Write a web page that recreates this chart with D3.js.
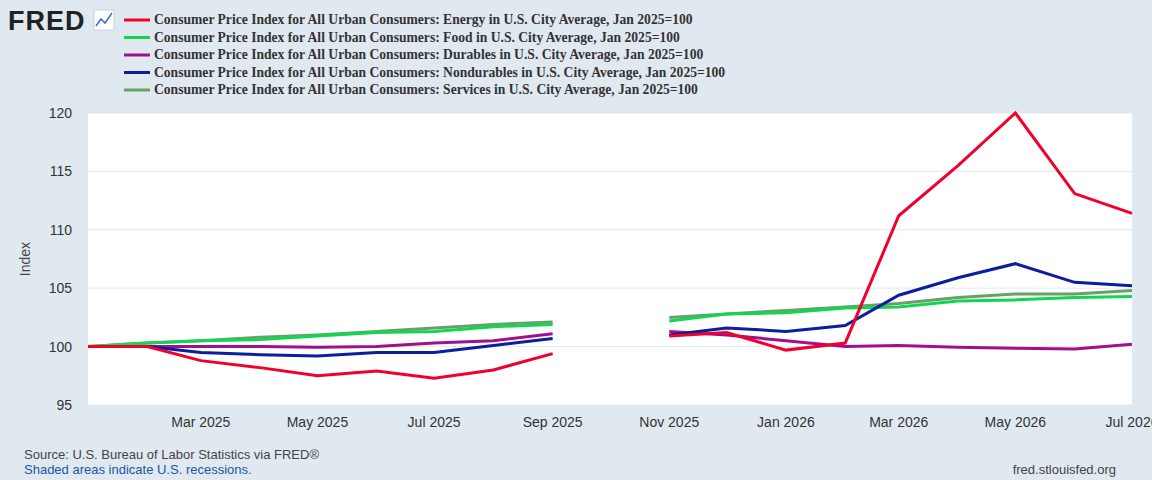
<!DOCTYPE html>
<html lang="en">
<head>
<meta charset="utf-8">
<title>FRED CPI components</title>
<script src="https://d3js.org/d3.v7.min.js"></script>
<style>
  body { margin: 0; background: #e1e9f0; }
  svg text { font-family: "Liberation Sans", Arial, sans-serif; }
  .legend text { font-family: "Liberation Serif", "Times New Roman", serif; font-weight: bold; font-size: 13.6px; fill: #333; }
</style>
</head>
<body>
<div id="chart"></div>
<script>
// monthly dates, Oct 2025 missing
var months1 = ["2025-01","2025-02","2025-03","2025-04","2025-05","2025-06","2025-07","2025-08","2025-09"];
var months2 = ["2025-11","2025-12","2026-01","2026-02","2026-03","2026-04","2026-05","2026-06","2026-07"];
var energy = [100,100,98.8,98.2,97.5,97.9,97.3,98.0,99.4, 100.9,101.2,99.7,100.3,111.2,115.5,120,113.1,111.4];
var food = [100,100.3,100.5,100.6,100.9,101.2,101.3,101.7,101.9, 102.2,102.8,102.9,103.3,103.4,103.9,104.0,104.2,104.3];
var durables = [100,100,100,100,99.95,100.0,100.3,100.5,101.1, 101.3,101.0,100.5,100.0,100.1,99.95,99.85,99.8,100.2];
var nondurables = [100,100,99.5,99.3,99.2,99.5,99.5,100.1,100.7, 101.0,101.6,101.3,101.8,104.4,105.9,107.1,105.5,105.2];
var services = [100,100.3,100.5,100.8,101.0,101.3,101.6,101.9,102.1, 102.5,102.8,103.1,103.4,103.7,104.2,104.5,104.5,104.8];
var seriesNames = ["Energy","Food","Durables","Nondurables","Services"];
var seriesColors = ["#f0002b","#10d650","#a0108c","#0a1e9e","#6a9e6a"];
var yTicks = [95,100,105,110,115,120];
var xTicks = ["2025-03","2025-05","2025-07","2025-09","2025-11","2026-01","2026-03","2026-05","2026-07"];

var W = 1152, H = 480;
var pLeft = 88, pRight = 1132, pTop = 113, pBottom = 405;
var parse = d3.timeParse("%Y-%m");
var dates = months1.concat(months2).map(parse);

var svg = d3.select("#chart").append("svg").attr("width", W).attr("height", H);
var x = d3.scaleTime().domain([parse("2025-01"), parse("2026-07")]).range([pLeft, pRight]);
var y = d3.scaleLinear().domain([95, 120]).range([pBottom, pTop]);

svg.append("rect").attr("x", pLeft).attr("y", pTop).attr("width", pRight - pLeft).attr("height", pBottom - pTop).attr("fill", "#fff");

// gridlines
svg.append("g").selectAll("line").data(yTicks).enter().append("line")
  .attr("x1", pLeft).attr("x2", pRight)
  .attr("y1", d => y(d)).attr("y2", d => y(d))
  .attr("stroke", "#e1e9f0").attr("stroke-width", 1);

svg.append("g").selectAll("text").data(yTicks).enter().append("text")
  .attr("x", pLeft - 16).attr("y", d => y(d) + 5)
  .attr("text-anchor", "end").attr("font-size", 14).attr("fill", "#333")
  .text(d => d);

svg.append("g").selectAll("text").data(xTicks).enter().append("text")
  .attr("x", d => x(parse(d))).attr("y", pBottom + 22)
  .attr("text-anchor", "middle").attr("font-size", 14).attr("fill", "#333")
  .text(d => d3.timeFormat("%b %Y")(parse(d)));

svg.append("text").attr("transform", "translate(30," + ((pTop + pBottom) / 2) + ") rotate(-90)")
  .attr("text-anchor", "middle").attr("font-size", 14).attr("fill", "#444").text("Index");

// lines
var allSeries = [energy, food, durables, nondurables, services];
var line = d3.line().x(d => x(d.date)).y(d => y(d.v));
var order = [4, 1, 2, 3, 0];
order.forEach(function(k) {
  var pts = allSeries[k].map((v, i) => ({date: dates[i], v: v}));
  [pts.slice(0, 9), pts.slice(9)].forEach(function(seg) {
    svg.append("path").datum(seg).attr("d", line)
      .attr("fill", "none").attr("stroke", seriesColors[k]).attr("stroke-width", 3);
  });
});

// legend
var lg = svg.append("g").attr("class", "legend");
seriesNames.forEach(function(n, i) {
  var yy = 20 + i * 17.5;
  lg.append("line").attr("x1", 124).attr("x2", 150).attr("y1", yy).attr("y2", yy)
    .attr("stroke", seriesColors[i]).attr("stroke-width", 3);
  lg.append("text").attr("x", 154).attr("y", yy + 4)
    .text("Consumer Price Index for All Urban Consumers: " + n + " in U.S. City Average, Jan 2025=100");
});

// logo
svg.append("text").attr("x", 8).attr("y", 30).attr("font-size", 27).attr("font-weight", "bold")
  .attr("letter-spacing", 1).attr("fill", "#222").text("FRED");
svg.append("rect").attr("x", 94).attr("y", 10).attr("width", 20).attr("height", 20)
  .attr("fill", "#fff").attr("stroke", "#9bb").attr("stroke-width", 0.5);
svg.append("path").attr("d", "M96,26 L101,19 L105,23 L112,13").attr("fill", "none")
  .attr("stroke", "#3a6fc4").attr("stroke-width", 1.5);

// footer
svg.append("text").attr("x", 24).attr("y", 459).attr("font-size", 13).attr("fill", "#444")
  .text("Source: U.S. Bureau of Labor Statistics via FRED®");
svg.append("text").attr("x", 24).attr("y", 474).attr("font-size", 13).attr("fill", "#1a56a6")
  .text("Shaded areas indicate U.S. recessions.");
svg.append("text").attr("x", 1116).attr("y", 474).attr("font-size", 13).attr("fill", "#444")
  .attr("text-anchor", "end").text("fred.stlouisfed.org");
</script>
</body>
</html>
